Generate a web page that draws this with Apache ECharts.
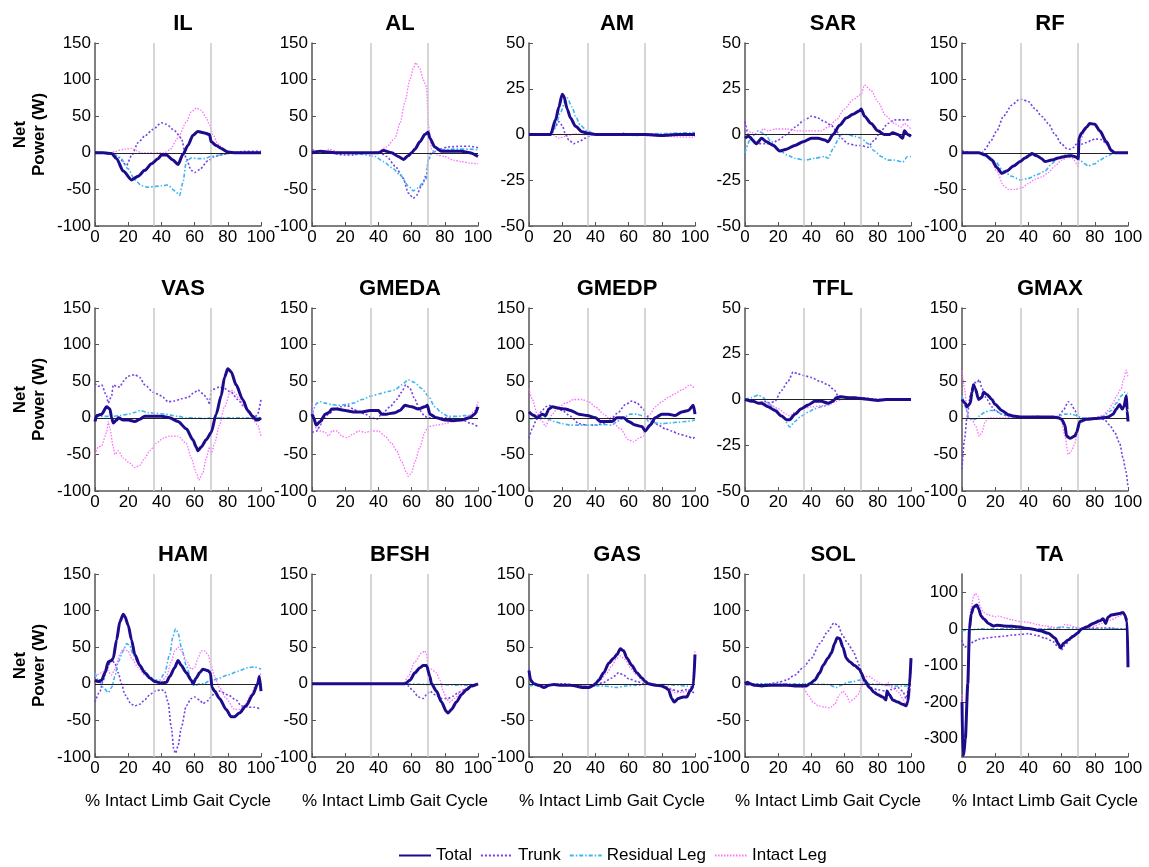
<!DOCTYPE html>
<html><head><meta charset="utf-8">
<script src="https://cdn.jsdelivr.net/npm/echarts@6/dist/echarts.min.js"></script>
<style>html,body{margin:0;padding:0;background:#fff}#c{width:1149px;height:867px}</style>
</head><body><div id="c"></div>
<script>
// ---------- data ----------
const muscles = ['IL','AL','AM','SAR','RF','VAS','GMEDA','GMEDP','TFL','GMAX','HAM','BFSH','GAS','SOL','TA'];
const seriesNames = ['Total','Trunk','Residual Leg','Intact Leg'];
const yMin  = [-100,-100,-50,-50,-100, -100,-100,-100,-50,-100, -100,-100,-100,-100,-350];
const yMax  = [150,150,50,50,150, 150,150,150,50,150, 150,150,150,150,150];
const yStep = [50,50,25,25,50, 50,50,50,25,50, 50,50,50,50,50];
const taTicks = [-300,-200,-100,0,100];
const xTicks = [0,20,40,60,80,100];
const phaseLines = [35.5, 70];

const IL_total = [[0,0],[5,0],[10,-1],[13,-8],[17,-25],[22,-37],[26,-32],[30,-24],[34,-15],[38,-8],[40,-3],[43,-3],[47,-10],[50,-16],[53,-2],[56,10],[59,24],[62,29],[66,27],[69,25],[70,15],[73,10],[76,6],[80,1],[85,0],[100,0]];
const IL_trunk = [[0,1],[5,0],[10,-2],[14,-6],[19,-17],[22,-4],[26,14],[30,23],[35,32],[40,41],[43,39],[48,30],[52,20],[55,-8],[58,-24],[60,-27],[63,-23],[68,-11],[72,-5],[78,-2],[82,0],[90,2],[100,2]];
const IL_resid = [[0,1],[10,0],[15,-6],[20,-22],[24,-37],[28,-45],[32,-47],[36,-46],[40,-45],[44,-44],[48,-52],[51,-58],[53,-40],[55,-12],[58,-7],[62,-8],[66,-8],[70,-5],[75,-3],[80,-1],[85,0],[100,0]];
const IL_intact = [[0,0],[10,0],[12,2],[18,5],[22,6],[25,3],[28,0],[42,0],[45,4],[50,20],[55,42],[58,56],[61,61],[64,58],[67,48],[69,38],[71,25],[74,12],[78,4],[82,1],[85,0],[100,0]];

const AL_total = [[0,0],[5,2],[10,1],[15,0],[40,0],[43,3],[48,0],[52,-5],[55,-9],[58,-4],[60,0],[62,5],[65,15],[68,25],[70,28],[71,20],[74,8],[78,2],[85,2],[90,2],[95,0],[100,-5]];
const AL_trunk = [[0,4],[5,2],[10,0],[20,-3],[25,-3],[30,0],[38,0],[40,2],[45,-5],[50,-18],[55,-35],[58,-55],[61,-62],[63,-58],[66,-45],[69,-30],[70,-10],[72,0],[77,5],[82,8],[90,9],[95,9],[100,7]];
const AL_resid = [[0,0],[20,0],[30,-2],[38,-5],[43,-12],[48,-20],[53,-30],[58,-45],[61,-52],[64,-48],[67,-40],[69,-35],[70,-10],[72,0],[77,4],[85,5],[95,5],[100,4]];
const AL_intact = [[0,-5],[3,2],[8,3],[10,5],[15,2],[20,0],[35,0],[40,2],[45,8],[50,20],[53,40],[56,70],[59,100],[61,115],[62.5,123],[65,115],[67,100],[68,95],[69,90],[70,40],[72,5],[75,-3],[80,-5],[85,-10],[90,-12],[95,-14],[100,-15]];

const AM_total = [[0,0],[13,0],[16,8],[18,15],[20,22],[21,21],[23,14],[25,9],[28,4.5],[32,1.5],[36,0.5],[40,0],[70,0],[80,-0.5],[90,0],[100,0]];
const AM_trunk = [[0,0],[13,0],[15,3],[18,7],[20,5],[22,0],[24,-3],[27,-5],[30,-4],[34,-2],[38,0],[100,0]];
const AM_resid = [[0,0],[14,0],[16,5],[19,12],[22,19],[23,20],[26,15],[28,10],[31,5],[35,2],[40,0],[60,0],[62,-0.5],[80,0.5],[98,1],[100,1]];
const AM_intact = [[0,0],[14,0],[18,-2],[22,-1],[28,0.5],[32,0],[55,0],[57,1],[60,0],[80,-1],[99,-1.5],[100,-1]];

const SAR_total = [[0,-2],[2,-1],[7,-5],[10,-2],[13,-4],[17,-6],[21,-9],[25,-8],[30,-6],[35,-4],[40,-2],[44,-2],[48,-3],[50,-4],[53,0],[57,5],[61,9],[65,11],[69,13],[70,14],[72,10],[76,6],[80,2],[84,0],[87,0],[89,1],[92,0],[95,-2],[96,2],[98,0],[100,-1]];
const SAR_trunk = [[0,7],[2,0],[5,-3],[8,-5],[12,-5],[16,-5],[20,-3],[25,0],[30,4],[36,8],[40,10],[44,9],[48,7],[52,5],[55,2],[58,-2],[62,-5],[67,-6],[70,-6],[74,-7],[78,-3],[82,2],[86,6],[90,8],[95,8],[100,8]];
const SAR_resid = [[0,-10],[3,-3],[6,0],[8,2],[12,0],[16,-4],[20,-8],[25,-11],[30,-13],[36,-14],[42,-13],[48,-12],[50,-13],[53,-8],[56,-3],[58,0],[62,0],[66,-1],[70,-2],[74,-5],[78,-9],[82,-12],[86,-14],[90,-14],[95,-15],[98,-12],[100,-12]];
const SAR_intact = [[0,4],[4,1],[8,0],[11,3],[14,2],[18,3],[25,3],[32,2],[40,2],[46,2],[50,4],[55,8],[60,14],[65,19],[70,22],[72,27],[76,24],[80,18],[85,10],[90,6],[94,4],[96,6],[100,3]];

const RF_total = [[0,0],[10,0],[14,-3],[18,-10],[21,-20],[24,-28],[27,-25],[31,-18],[35,-12],[38,-7],[41,-3],[42,-1],[45,-4],[48,-8],[50,-12],[54,-10],[58,-7],[62,-5],[66,-4],[69,-6],[70,-8],[70.5,20],[72,27],[75,35],[77,40],[80,39],[83,30],[87,15],[90,3],[92,0],[100,0]];
const RF_trunk = [[0,3],[5,0],[12,0],[14,5],[17,15],[21,30],[25,50],[30,65],[34,72],[36,73],[40,70],[44,60],[48,50],[52,40],[56,25],[60,12],[63,6],[65,5],[67,7],[69,12],[70,15],[72,12],[75,14],[78,17],[80,19],[84,18],[87,12],[89,5],[92,0],[100,0]];
const RF_resid = [[0,0],[12,0],[16,-5],[20,-12],[25,-25],[30,-32],[35,-37],[40,-35],[45,-30],[50,-25],[54,-15],[58,-8],[62,-3],[66,-3],[69,-5],[71,-10],[74,-15],[76,-18],[80,-15],[83,-10],[87,-5],[92,0],[100,0]];
const RF_intact = [[0,0],[12,0],[17,-8],[21,-25],[25,-45],[28,-50],[32,-50],[36,-48],[40,-42],[44,-36],[48,-33],[52,-27],[56,-18],[60,-10],[64,-6],[67,-8],[69,-15],[70,-20],[71,15],[74,30],[77,40],[80,38],[83,28],[87,12],[90,2],[92,0],[100,0]];

const VAS_total = [[0,-5],[1,3],[4,5],[7,15],[9,12],[10,0],[11,-7],[13,-3],[14,0],[17,-3],[20,-3],[24,-5],[27,-2],[30,2],[35,2],[40,2],[45,0],[50,-5],[55,-15],[59,-30],[61,-40],[62,-45],[64,-40],[67,-30],[70,-20],[73,5],[76,30],[78,55],[80,67],[82,63],[85,45],[89,25],[92,10],[95,2],[97,-3],[98,-3],[100,0]];
const VAS_trunk = [[0,47],[2,43],[4,45],[7,30],[8,20],[10,30],[11,45],[13,43],[15,42],[17,50],[20,57],[24,59],[27,55],[30,45],[35,35],[40,30],[44,22],[48,23],[52,26],[56,28],[60,35],[62,38],[65,33],[68,25],[69,18],[70,38],[75,42],[78,40],[82,35],[86,25],[90,15],[94,5],[96,0],[98,5],[100,25]];
const VAS_resid = [[0,2],[10,2],[15,3],[20,5],[25,8],[27,10],[32,7],[37,6],[42,5],[50,2],[55,0],[60,0],[65,-1],[70,0],[100,0]];
const VAS_intact = [[0,-50],[2,-40],[4,-38],[7,-20],[8,-5],[9,-15],[11,-40],[12,-50],[14,-45],[17,-55],[21,-62],[24,-68],[27,-65],[30,-55],[33,-45],[37,-35],[41,-28],[45,-25],[50,-25],[55,-35],[58,-55],[61,-75],[62.5,-85],[65,-75],[67,-55],[69,-40],[70,-50],[72,-35],[75,-10],[78,15],[82,38],[84,35],[87,25],[90,15],[93,5],[95,-2],[98,-10],[100,-25]];

const GMEDA_total = [[0,5],[1,0],[2.5,-10],[5,-5],[8,5],[10,7],[12,12],[15,12],[20,10],[25,8],[30,8],[35,10],[40,10],[42,5],[45,5],[50,7],[53,10],[56,17],[60,15],[64,12],[68,15],[69.5,17],[71,5],[75,0],[80,-3],[85,-4],[90,-3],[95,0],[98,5],[100,15]];
const GMEDA_trunk = [[0,-20],[3,-18],[5,-10],[7,0],[10,5],[14,12],[17,15],[21,17],[25,12],[28,8],[32,5],[36,0],[39,-2],[42,5],[47,15],[51,25],[54,35],[56.5,45],[59,40],[62,25],[65,10],[68,2],[70,0],[80,0],[90,-2],[95,-7],[100,-12]];
const GMEDA_resid = [[0,5],[3,20],[5,22],[8,20],[12,18],[16,17],[20,18],[25,20],[30,25],[36,30],[41,33],[46,36],[50,38],[54,45],[58,52],[62,48],[66,40],[70,30],[74,15],[78,7],[82,2],[88,2],[92,3],[96,3],[100,8]];
const GMEDA_intact = [[0,20],[1,5],[2.5,-15],[5,-18],[8,-20],[10,-25],[12,-18],[15,-18],[18,-25],[21,-27],[25,-22],[28,-18],[32,-20],[36,-18],[40,-18],[44,-25],[48,-35],[51,-45],[54,-60],[57,-75],[58,-80],[60,-75],[62,-60],[65,-40],[68,-20],[70,-12],[75,-10],[80,-8],[85,-5],[90,-2],[95,3],[98,10],[100,22]];

const GMEDP_total = [[0,8],[3,3],[5,0],[8,5],[10,3],[12,12],[14,15],[18,13],[22,12],[25,10],[30,5],[35,3],[40,0],[43,-5],[48,-5],[50,-5],[53,0],[57,0],[60,-5],[64,-10],[68,-12],[70,-18],[73,-10],[76,0],[80,5],[84,5],[88,3],[92,8],[96,10],[99,17],[100,5]];
const GMEDP_trunk = [[0,-28],[2,-15],[4,-5],[6,5],[8,10],[10,15],[12,17],[15,15],[20,10],[25,2],[30,-8],[35,-10],[40,-10],[45,-8],[50,0],[54,8],[58,18],[62,23],[65,20],[69,12],[70,5],[73,-2],[78,-10],[82,-15],[86,-18],[90,-22],[95,-25],[99,-28],[100,-25]];
const GMEDP_resid = [[0,-2],[5,0],[10,0],[15,-5],[20,-8],[25,-10],[30,-10],[35,-10],[40,-10],[45,-9],[50,-10],[53,-5],[57,0],[61,5],[65,5],[68,3],[70,2],[72,-5],[76,-7],[80,-8],[85,-7],[90,-6],[95,-5],[100,-3]];
const GMEDP_intact = [[0,40],[2,25],[5,5],[8,-5],[10,-12],[12,-3],[14,5],[18,15],[22,20],[27,25],[32,25],[36,22],[40,15],[45,5],[50,-5],[55,-15],[60,-30],[63,-33],[66,-28],[69,-25],[70,-5],[73,5],[76,15],[80,22],[84,28],[88,33],[92,38],[97,45],[100,40]];

const TFL_total = [[0,0],[5,-1],[8,-2],[10,-2],[14,-4],[18,-6],[22,-9],[25,-11],[27,-11],[30,-8],[34,-5],[38,-3],[42,-1],[46,-1],[50,-2],[53,-1],[55,1],[58,1.5],[62,1],[66,1],[70,0.5],[75,0],[80,-0.5],[85,0],[100,0]];
const TFL_trunk = [[0,0],[5,-1],[8,-2],[12,-1],[15,-2],[18,-1],[22,5],[26,10],[29,15],[32,14],[36,13],[40,12],[45,10],[50,8],[54,5],[56,2],[60,1.5],[65,1],[70,1],[80,0],[100,0]];
const TFL_resid = [[0,0],[4,1],[8,2.5],[11,1],[14,-2],[18,-5],[23,-10],[27,-15],[30,-12],[34,-9],[38,-7],[42,-5],[46,-4],[50,-3],[53,-1],[56,1],[60,1],[65,0.5],[70,0],[100,0]];
const TFL_intact = [[0,0],[5,-1],[8,-2],[10,-1],[15,-3],[20,-5],[25,-8],[27,-9],[30,-7],[35,-5],[40,-4],[45,-3.5],[50,-3],[55,-1],[58,0],[62,0.5],[67,1],[70,0.5],[75,0],[100,0]];

const GMAX_total = [[0,25],[2,20],[3,15],[5,20],[6,35],[7,45],[8,40],[10,25],[12,28],[13,35],[15,32],[18,25],[20,18],[24,10],[28,4],[32,2],[36,1],[50,1],[55,1],[58,0],[60,-2],[62,-10],[63,-25],[65,-28],[68,-25],[69,-20],[71,-5],[75,-2],[80,-1],[85,0],[88,1],[91,5],[93,12],[95,18],[96.5,12],[97.5,15],[99,30],[99.5,10],[100,-5]];
const GMAX_trunk = [[0,-70],[1.5,-30],[3,0],[5,30],[7,48],[9,48],[10.5,52],[12,40],[15,25],[18,15],[20,10],[24,5],[28,2],[32,0],[40,0],[50,1],[55,0],[58,2],[61,10],[64,22],[66,18],[68,10],[70,0],[75,-1],[83,0],[86,-3],[89,-10],[92,-20],[95,-35],[97,-55],[98.5,-70],[100,-95]];
const GMAX_resid = [[0,30],[2,15],[4,0],[6,-3],[8,-2],[10,2],[14,8],[17,10],[20,10],[24,5],[28,2],[35,0],[45,2],[55,1],[58,2],[62,5],[66,5],[69,3],[72,0],[80,0],[85,2],[90,10],[93,20],[96,30],[98,35],[100,33]];
const GMAX_intact = [[0,65],[1.5,40],[3,10],[4,0],[6,-2],[8,-10],[10.5,-25],[12,-20],[14,-5],[16,0],[25,0],[58,0],[60,-5],[62,-25],[64,-50],[66,-45],[68,-35],[69,-25],[71,-3],[75,0],[80,0],[85,3],[88,10],[91,20],[93,30],[96,40],[97,50],[99,65],[100,55]];

const HAM_total = [[0,5],[2,3],[4,5],[6,15],[8,30],[10,32],[11,35],[13,60],[15,85],[17,95],[18,92],[20,80],[22,60],[24,40],[27,25],[30,15],[33,8],[36,3],[40,1],[43,2],[45,10],[48,22],[50,32],[52,25],[55,15],[58,5],[59,0],[61,8],[63,15],[65,20],[68,18],[69.5,15],[70.5,-5],[72,-10],[75,-20],[79,-35],[82,-45],[84,-45],[87,-40],[91,-30],[95,-15],[98,0],[99,10],[100,-10]];
const HAM_trunk = [[0,-25],[3,-10],[5,5],[7,20],[10,33],[12,28],[14,15],[16,0],[18,-15],[22,-28],[24,-30],[27,-28],[30,-22],[33,-15],[36,-10],[40,-8],[42,-10],[44,-25],[46,-60],[47.5,-90],[48.5,-95],[50,-85],[52,-60],[55,-30],[58,-20],[60,-18],[63,-22],[65,-27],[68,-23],[70,-18],[72,-12],[75,-10],[80,-15],[85,-22],[88,-30],[92,-32],[96,-32],[100,-35]];
const HAM_resid = [[0,15],[2,5],[5,-5],[8,-12],[10,-5],[12,10],[14,30],[17,45],[19,55],[21,52],[23,40],[26,28],[30,18],[33,10],[36,5],[39,5],[42,15],[45,40],[47,65],[48.5,75],[50,70],[52,50],[55,25],[58,5],[60,-3],[63,0],[66,0],[68,3],[70,4],[74,7],[80,12],[86,17],[92,22],[96,23],[100,20]];
const HAM_intact = [[0,10],[4,15],[7,20],[10,12],[12,20],[15,40],[17,48],[20,45],[22,35],[26,22],[30,12],[34,5],[37,2],[40,3],[43,10],[46,30],[48,45],[50,50],[52,45],[55,32],[58,20],[60,22],[62,35],[64,45],[66,45],[68,40],[70,25],[72,10],[75,-5],[79,-20],[84,-35],[87,-35],[90,-30],[94,-15],[97,0],[100,15]];

const BFSH_total = [[0,0],[56,0],[59,5],[62,15],[65,22],[67,25],[69,25],[71,10],[72,0],[75,-10],[78,-25],[81,-38],[82,-40],[84,-35],[87,-25],[90,-15],[93,-8],[96,-3],[100,0]];
const BFSH_trunk = [[0,0],[56,0],[58,-3],[61,-10],[64,-18],[67,-20],[69,-15],[71,-10],[74,-15],[78,-20],[82,-20],[85,-17],[88,-12],[92,-8],[96,-3],[100,0]];
const BFSH_resid = [[0,0],[50,0],[75,-1],[90,-2],[100,0]];
const BFSH_intact = [[0,1],[5,0],[55,0],[58,10],[62,30],[66,42],[68,45],[69,40],[70,20],[72,20],[75,15],[77,5],[79,-10],[81,-20],[83,-25],[86,-20],[90,-10],[95,-3],[100,0]];

const GAS_total = [[0,18],[1,5],[3,0],[6,-2],[9,-5],[12,-2],[15,-1],[20,-2],[25,-2],[28,-3],[32,-5],[36,-5],[39,-2],[40,0],[42,5],[45,15],[48,28],[51,35],[53,40],[55,48],[57,45],[59,35],[62,25],[65,15],[68,8],[70,3],[72,0],[76,-2],[80,-3],[82,-5],[84,-8],[86,-20],[87.5,-25],[90,-20],[93,-18],[95,-18],[97,-10],[99,-3],[100,40]];
const GAS_trunk = [[0,20],[1,3],[3,0],[6,-3],[9,-5],[12,-2],[20,0],[30,-2],[35,-3],[40,-2],[45,2],[50,8],[54,15],[57,12],[60,7],[65,3],[70,0],[75,-1],[80,-3],[84,-5],[86,-8],[90,-10],[95,-8],[98,-10],[100,-15]];
const GAS_resid = [[0,-3],[5,-2],[20,-2],[35,-2],[45,-3],[53,-5],[58,-3],[65,-2],[70,-1],[80,-1],[90,-2],[95,-3],[100,-5]];
const GAS_intact = [[0,10],[3,0],[8,-3],[15,-2],[25,-1],[35,-2],[40,0],[43,5],[47,15],[50,25],[53,35],[55,38],[58,33],[61,22],[65,12],[68,5],[70,2],[75,0],[80,-2],[84,-5],[88,-12],[92,-12],[95,-10],[98,-5],[100,45]];

const SOL_total = [[0,0],[1.5,2],[3,0],[6,-2],[10,-3],[15,-2],[20,-2],[25,-2],[30,-3],[35,-3],[37,-3],[39,0],[42,5],[45,15],[47,25],[50,35],[52,42],[54,55],[55.5,63],[57,62],[59,50],[61,35],[63,30],[66,25],[69,20],[70,15],[72,5],[75,-5],[78,-12],[80,-15],[83,-18],[85,-22],[85.5,-10],[87,-15],[89,-22],[92,-25],[95,-28],[97,-30],[98,-25],[99,-5],[100,35]];
const SOL_trunk = [[0,0],[2,2],[5,0],[15,0],[20,2],[25,5],[30,12],[35,22],[40,35],[45,55],[50,72],[53.5,83],[56,80],[59,65],[62,55],[65,45],[68,30],[70,15],[72,0],[75,-5],[80,-8],[85,-10],[88,-8],[92,-5],[95,-10],[97,-20],[100,20]];
const SOL_resid = [[0,-2],[5,-1],[15,0],[30,0],[40,0],[50,-1],[55,-5],[58,-2],[62,2],[65,3],[69,5],[72,3],[75,0],[80,-1],[85,-2],[90,-3],[95,-3],[100,-3]];
const SOL_intact = [[0,-2],[5,-2],[10,-3],[15,-2],[20,-1],[25,0],[30,-1],[35,-5],[38,-15],[41,-25],[44,-30],[48,-32],[51,-33],[54,-28],[57,-15],[59,-10],[61,-15],[63,-25],[65,-22],[68,-15],[70,-5],[72,10],[75,10],[78,5],[82,0],[85,-3],[86,2],[88,-5],[92,-10],[95,-20],[97,-30],[99,-20],[100,30]];

const TA_total = [[0,-200],[0.5,-340],[1,-345],[2,-300],[3.5,-150],[4.5,0],[5.5,40],[7,60],[9,65],[10,55],[11.5,35],[13,28],[16,15],[19,8],[21,10],[25,8],[30,7],[35,5],[38,2],[42,0],[47,-5],[52,-12],[56,-25],[58,-40],[59.5,-52],[61,-40],[64,-30],[67,-20],[69.5,-12],[72,0],[75,5],[79,15],[83,22],[85,28],[86.5,15],[88,32],[90,38],[95,42],[97,45],[98,38],[99.5,20],[100,-105]];
const TA_trunk = [[0,-30],[1.5,-50],[4,-45],[7,-35],[10,-28],[15,-25],[20,-22],[25,-20],[30,-17],[35,-15],[40,-13],[45,-18],[50,-25],[55,-35],[58,-50],[60,-57],[62,-45],[65,-30],[68,-18],[70,-8],[73,0],[78,2],[85,2],[90,2],[95,0],[100,0]];
const TA_resid = [[0,-5],[5,-3],[10,0],[30,0],[50,0],[55,2],[60,5],[65,3],[70,2],[75,0],[85,0],[100,0]];
const TA_intact = [[0,-180],[0.5,-320],[1.5,-330],[2.5,-250],[3.5,-100],[4.5,20],[5.5,60],[7,90],[8,97],[9.5,90],[11,60],[13,45],[16,38],[20,33],[22,35],[26,30],[30,25],[35,20],[40,18],[45,12],[50,8],[55,5],[58,0],[60,5],[62,12],[65,10],[68,5],[70,0],[75,3],[80,8],[84,15],[86,20],[90,25],[95,35],[97,42],[98.5,30],[100,-100]];

const totals  = [IL_total,AL_total,AM_total,SAR_total,RF_total,VAS_total,GMEDA_total,GMEDP_total,TFL_total,GMAX_total,HAM_total,BFSH_total,GAS_total,SOL_total,TA_total];
const trunks  = [IL_trunk,AL_trunk,AM_trunk,SAR_trunk,RF_trunk,VAS_trunk,GMEDA_trunk,GMEDP_trunk,TFL_trunk,GMAX_trunk,HAM_trunk,BFSH_trunk,GAS_trunk,SOL_trunk,TA_trunk];
const resids  = [IL_resid,AL_resid,AM_resid,SAR_resid,RF_resid,VAS_resid,GMEDA_resid,GMEDP_resid,TFL_resid,GMAX_resid,HAM_resid,BFSH_resid,GAS_resid,SOL_resid,TA_resid];
const intacts = [IL_intact,AL_intact,AM_intact,SAR_intact,RF_intact,VAS_intact,GMEDA_intact,GMEDP_intact,TFL_intact,GMAX_intact,HAM_intact,BFSH_intact,GAS_intact,SOL_intact,TA_intact];

// ---------- layout & style ----------
const FONT = '"Liberation Sans", Arial, sans-serif';
const colLeft = [95, 312, 529, 745, 962];
const rowTop = [43, 308, 574];
const GW = 166, GH = 183;
const AX = '#555';

const grids = [], xAxes = [], yAxes = [], titles = [], series = [];
const styles = {
  'Total':        {color:'#1c0c8c', width:3,   type:'solid'},
  'Trunk':        {color:'#7442e6', width:1.6, type:[2,2]},
  'Residual Leg': {color:'#3fb4f2', width:1.6, type:[4,2,1.5,2]},
  'Intact Leg':   {color:'#ff6cff', width:1.3, type:[1.5,1.5]}
};

muscles.forEach((m, i) => {
  const r = Math.floor(i / 5), c = i % 5;
  grids.push({left: colLeft[c], top: rowTop[r], width: GW, height: GH, containLabel: false});
  titles.push({text: m, left: colLeft[c] + GW / 2, top: rowTop[r] - 35, textAlign: 'center',
    textStyle: {fontFamily: FONT, fontSize: 22, fontWeight: 'bold', color: '#000'}});
  xAxes.push({
    type: 'value', gridIndex: i, min: 0, max: 100, interval: 20,
    name: r === 2 ? '% Intact Limb Gait Cycle' : '', nameLocation: 'middle', nameGap: 36,
    nameTextStyle: {fontFamily: FONT, fontSize: 17, color: '#000'},
    axisLine: {show: true, onZero: false, lineStyle: {color: AX, width: 1.5}},
    axisTick: {show: true, inside: true, length: 4, lineStyle: {color: AX}},
    axisLabel: {fontFamily: FONT, fontSize: 17, color: '#000', margin: 3},
    splitLine: {show: false}
  });
  const ya = {
    type: 'value', gridIndex: i, min: yMin[i], max: yMax[i], interval: yStep[i],
    name: c === 0 ? 'Net\nPower (W)' : '', nameLocation: 'middle', nameGap: 46, nameRotate: 90,
    nameTextStyle: {fontFamily: FONT, fontSize: 17, fontWeight: 'bold', color: '#000', lineHeight: 19},
    axisLine: {show: true, onZero: false, lineStyle: {color: AX, width: 1.5}},
    axisTick: {show: true, inside: true, length: 4, lineStyle: {color: AX}},
    axisLabel: {fontFamily: FONT, fontSize: 17, color: '#000', margin: 4},
    splitLine: {show: false}
  };
  if (m === 'TA') {
    ya.axisLabel.customValues = taTicks;
    ya.axisTick.customValues = taTicks;
    ya.axisLabel.formatter = v => (v % 100 === 0 ? String(v) : '');
  }
  yAxes.push(ya);

  // background reference lines (phase boundaries & zero)
  series.push({
    type: 'line', xAxisIndex: i, yAxisIndex: i, data: [], silent: true, z: 1,
    markLine: {
      silent: true, symbol: ['none', 'none'], label: {show: false}, animation: false,
      data: [
        {xAxis: phaseLines[0], lineStyle: {color: '#c8c8c8', width: 1.5, type: 'solid'}},
        {xAxis: phaseLines[1], lineStyle: {color: '#c8c8c8', width: 1.5, type: 'solid'}},
        {yAxis: 0, lineStyle: {color: '#222', width: 1.2, type: 'solid'}}
      ]
    }
  });
  const sets = [['Trunk', trunks[i]], ['Residual Leg', resids[i]], ['Intact Leg', intacts[i]], ['Total', totals[i]]];
  sets.forEach(([nm, d], k) => {
    const st = styles[nm];
    series.push({
      name: nm, type: 'line', xAxisIndex: i, yAxisIndex: i, data: d,
      showSymbol: false, symbol: 'none', smooth: 0.25, smoothMonotone: 'x',
      z: 2 + k, animation: false,
      lineStyle: {color: st.color, width: st.width, type: st.type},
      itemStyle: {color: st.color}
    });
  });
});

const chart = echarts.init(document.getElementById('c'), null, {renderer: 'canvas'});
chart.setOption({
  backgroundColor: '#fff',
  animation: false,
  title: titles,
  grid: grids,
  xAxis: xAxes,
  yAxis: yAxes,
  legend: {
    show: true, data: seriesNames, left: 393, top: 842, itemWidth: 32, itemHeight: 12, itemGap: 8,
    itemStyle: {opacity: 0},
    textStyle: {fontFamily: FONT, fontSize: 17, color: '#000'}
  },
  series: series
});
</script>
</body></html>
